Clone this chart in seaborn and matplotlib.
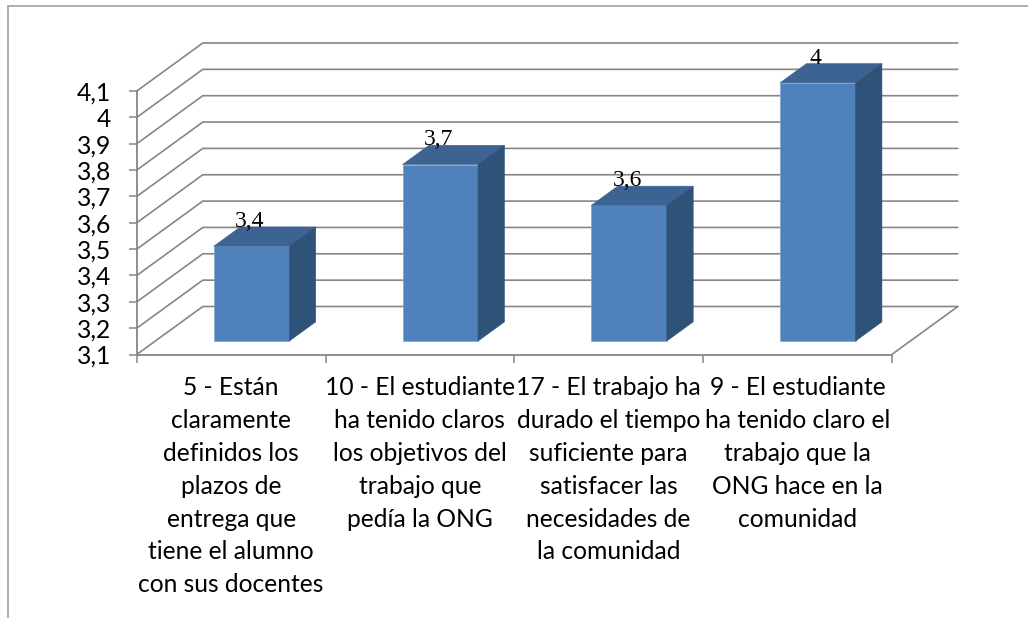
################################ LIBRARIES ################################
import matplotlib
matplotlib.use("Agg")
import matplotlib.pyplot as plt
from matplotlib.lines import Line2D
from matplotlib.patches import Polygon
from matplotlib.transforms import Affine2D
import seaborn as sns
import pandas as pd

################################### DATA ##################################
categories = [
    "5 - Están\nclaramente\ndefinidos los\nplazos de\nentrega que\ntiene el alumno\ncon sus docentes",
    "10 - El estudiante\nha tenido claros\nlos objetivos del\ntrabajo que\npedía la ONG",
    "17 - El trabajo ha\ndurado el tiempo\nsuficiente para\nsatisfacer las\nnecesidades de\nla comunidad",
    "9 - El estudiante\nha tenido claro el\ntrabajo que la\nONG hace en la\ncomunidad",
]
bar_heights = [3.46, 3.77, 3.615, 4.08]
bar_labels = ["3,4", "3,7", "3,6", "4"]
y_ticks = [3.1, 3.2, 3.3, 3.4, 3.5, 3.6, 3.7, 3.8, 3.9, 4.0, 4.1]
y_tick_labels = ["3,1", "3,2", "3,3", "3,4", "3,5", "3,6", "3,7", "3,8", "3,9", "4", "4,1"]

################################## STYLE ##################################
sns.set_style("white")
plt.rcParams["font.family"] = ["Lato", "DejaVu Sans"]
W, H = 1028, 618
GREY = "#868686"
FRONT = "#4F81BD"
TOP = "#3C6391"
SIDE = "#2F5279"
EDGE = "#7FA3CF"

fig = plt.figure(figsize=(W / 100, H / 100), dpi=100)
ax = fig.add_axes([136.8 / W, 1 - 354.5 / H, 755 / W, 263.5 / H])

################################ BAR FRONTS ###############################
df = pd.DataFrame({"cat": categories, "val": bar_heights})
sns.barplot(data=df, x="cat", y="val", color=FRONT, saturation=1, width=0.40, ax=ax)
ax.set_xlim(-0.5, 3.5)
ax.set_ylim(y_ticks[0], y_ticks[-1])
ax.set_xlabel("")
ax.set_ylabel("")

# depth of the fake 3D box, in data units
DX = 66 / (755 / 4)
DY = 48 / (263.5 / (y_ticks[-1] - y_ticks[0]))
BAR_FRONT = 0.28
BAR_BACK = 0.68
BAR_NUDGE = 0.01


def project(x, v, d):
    return (x + d * DX, v + d * DY)


############################### WALLS AND GRID ############################
x_left, x_right = ax.get_xlim()
for t in y_ticks:
    wall = [project(x_left, t, 0), project(x_left, t, 1), project(x_right, t, 1)]
    ax.plot(*zip(*wall), color=GREY, lw=1.2, clip_on=False, zorder=1)
floor_edge = [project(x_right, y_ticks[0], 0), project(x_right, y_ticks[0], 1)]
ax.plot(*zip(*floor_edge), color=GREY, lw=1.2, clip_on=False, zorder=1)

############################### BAR 3D FACES ##############################
shift = Affine2D().translate(BAR_FRONT * DX + BAR_NUDGE, BAR_FRONT * DY) + ax.transData
for patch, val, label in zip(ax.patches, bar_heights, bar_labels):
    patch.set_y(y_ticks[0])
    patch.set_height(val - y_ticks[0])
    patch.set_transform(shift)
    patch.set_clip_on(False)
    patch.set_edgecolor(EDGE)
    patch.set_linewidth(0.5)
    patch.set_zorder(3)
    x0 = patch.get_x() + BAR_NUDGE
    x1 = x0 + patch.get_width()
    top_face = [project(x0, val, BAR_FRONT), project(x1, val, BAR_FRONT),
                project(x1, val, BAR_BACK), project(x0, val, BAR_BACK)]
    side_face = [project(x1, y_ticks[0], BAR_FRONT), project(x1, val, BAR_FRONT),
                 project(x1, val, BAR_BACK), project(x1, y_ticks[0], BAR_BACK)]
    ax.add_patch(Polygon(top_face, facecolor=TOP, edgecolor=TOP, lw=0.4, clip_on=False, zorder=3))
    ax.add_patch(Polygon(side_face, facecolor=SIDE, edgecolor=SIDE, lw=0.4, clip_on=False, zorder=3))
    lx, ly = project((x0 + x1) / 2 - BAR_NUDGE, val, BAR_BACK)
    ax.text(lx - (BAR_BACK - BAR_FRONT) * DX, ly, label, family=["Liberation Serif"], fontsize=17,
            ha="center", va="baseline", color="black", zorder=5, clip_on=False)

################################### AXES ##################################
for name in ["top", "right"]:
    ax.spines[name].set_visible(False)
for name in ["left", "bottom"]:
    ax.spines[name].set_color(GREY)
    ax.spines[name].set_linewidth(1.3)
ax.set_yticks(y_ticks)
ax.set_yticklabels(y_tick_labels)
ax.set_xticks(range(len(categories)))
ax.set_xticklabels(categories, linespacing=1.52)
ax.set_xticks([i - 0.5 for i in range(len(categories) + 1)], minor=True)
ax.tick_params(axis="y", left=True, length=5.8, width=1.1, color=GREY, pad=12.5, labelsize=17.7, labelcolor="black")
ax.tick_params(axis="x", which="major", bottom=False, length=0, pad=15.5, labelsize=17.7, labelcolor="black")
ax.tick_params(axis="x", which="minor", bottom=True, length=5.8, width=1.1, color=GREY)

############################### OUTER FRAME ###############################
frame = "#A6A6A6"
fig.add_artist(Line2D([8 / W, 1], [1 - 6 / H, 1 - 6 / H], color=frame, lw=1.3))
fig.add_artist(Line2D([8 / W, 8 / W], [1 - 6 / H, 0], color=frame, lw=1.3))

fig.savefig("out.png", dpi=100)
